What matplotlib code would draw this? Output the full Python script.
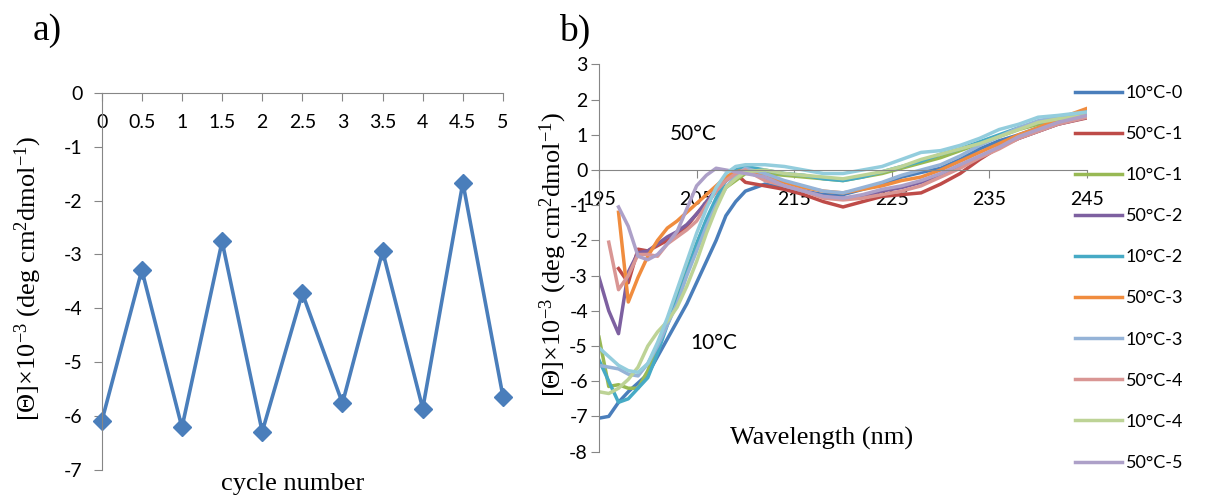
import numpy as np
import matplotlib
matplotlib.use("Agg")
import matplotlib.pyplot as plt

plt.rcParams["font.family"] = ["Lato", "DejaVu Sans"]
plt.rcParams["axes.unicode_minus"] = False
plt.rcParams["mathtext.fontset"] = "custom"
plt.rcParams["mathtext.rm"] = "Liberation Serif"
plt.rcParams["mathtext.it"] = "Liberation Serif:italic"

# panel a: cycle data
cycle = [0, 0.5, 1, 1.5, 2, 2.5, 3, 3.5, 4, 4.5, 5]
cycle_labels = ["0", "0.5", "1", "1.5", "2", "2.5", "3", "3.5", "4", "4.5", "5"]
theta_cycle = [-6.10, -3.29, -6.21, -2.76, -6.29, -3.72, -5.76, -2.94, -5.86, -1.67, -5.64]

# panel b: CD spectra
nan = np.nan
wl = [195, 196, 197, 198, 199, 200, 201, 202, 203, 204, 205, 206, 207, 208, 209, 210,
      212, 214, 216, 218, 220, 222, 224, 226, 228, 230, 232, 234, 236, 238, 240, 242, 245]

s_10c_0 = [-7.05, -7.0, -6.6, -6.3, -6.05, -5.8, -5.3, -4.8, -4.3, -3.8, -3.2, -2.6, -2.0, -1.3, -0.9, -0.6,
           -0.4, -0.5, -0.6, -0.7, -0.7, -0.55, -0.4, -0.2, -0.07, 0.05, 0.3, 0.6, 0.83, 1.0, 1.2, 1.38, 1.72]
s_50c_1 = [nan, nan, -2.8, -3.2, -2.25, -2.3, -2.15, -2.0, -1.85, -1.6, -1.25, -0.95, -0.6, -0.3, -0.1, -0.35,
           -0.45, -0.55, -0.7, -0.9, -1.05, -0.9, -0.75, -0.7, -0.65, -0.4, -0.1, 0.3, 0.65, 0.9, 1.1, 1.3, 1.48]
s_10c_1 = [-4.75, -6.15, -6.1, -6.2, -6.2, -5.7, -5.0, -4.3, -3.6, -2.85, -2.1, -1.45, -0.9, -0.5, -0.3, -0.1,
           -0.1, -0.15, -0.2, -0.25, -0.3, -0.2, -0.1, 0.05, 0.2, 0.35, 0.55, 0.75, 0.95, 1.15, 1.3, 1.45, 1.6]
s_50c_2 = [-3.05, -4.0, -4.65, -2.9, -2.35, -2.3, -2.1, -1.9, -1.75, -1.55, -1.25, -0.9, -0.55, -0.25, -0.05, 0.0,
           -0.25, -0.45, -0.6, -0.75, -0.8, -0.75, -0.6, -0.5, -0.35, -0.15, 0.1, 0.35, 0.65, 0.9, 1.1, 1.3, 1.5]
s_10c_2 = [-5.4, -6.0, -6.6, -6.5, -6.2, -5.9, -5.2, -4.4, -3.7, -2.9, -2.1, -1.4, -0.8, -0.3, 0.0, 0.1,
           0.0, -0.1, -0.15, -0.25, -0.3, -0.2, -0.05, 0.1, 0.25, 0.45, 0.6, 0.8, 1.0, 1.2, 1.35, 1.45, 1.6]
s_50c_3 = [nan, nan, -1.2, -3.75, -3.05, -2.45, -2.0, -1.65, -1.45, -1.2, -0.95, -0.7, -0.45, -0.2, -0.05, 0.0,
           -0.2, -0.35, -0.5, -0.6, -0.65, -0.55, -0.45, -0.3, -0.2, 0.0, 0.25, 0.5, 0.75, 1.0, 1.2, 1.45, 1.75]
s_10c_3 = [-5.55, -5.6, -5.65, -5.8, -5.85, -5.5, -5.0, -4.4, -3.8, -3.0, -2.3, -1.6, -1.0, -0.5, -0.15, 0.05,
           -0.1, -0.3, -0.45, -0.6, -0.65, -0.5, -0.35, -0.15, 0.0, 0.15, 0.4, 0.7, 0.95, 1.2, 1.4, 1.5, 1.6]
s_50c_4 = [nan, -2.05, -3.4, -3.0, -2.4, -2.4, -2.45, -2.1, -1.9, -1.7, -1.45, -1.0, -0.6, -0.3, -0.1, 0.0,
           -0.3, -0.45, -0.6, -0.8, -0.85, -0.8, -0.7, -0.6, -0.45, -0.2, 0.05, 0.35, 0.6, 0.9, 1.1, 1.3, 1.5]
s_10c_4 = [-6.3, -6.35, -6.2, -5.95, -5.6, -5.0, -4.6, -4.3, -3.9, -3.3, -2.6, -1.8, -1.1, -0.5, -0.25, -0.05,
           0.0, -0.1, -0.15, -0.2, -0.25, -0.15, -0.05, 0.1, 0.3, 0.45, 0.6, 0.75, 0.95, 1.15, 1.35, 1.45, 1.55]
s_50c_5 = [nan, nan, -1.05, -1.6, -2.45, -2.55, -2.4, -2.1, -1.75, -1.1, -0.45, -0.15, 0.05, 0.0, -0.05, -0.1,
           -0.2, -0.45, -0.6, -0.75, -0.8, -0.7, -0.55, -0.45, -0.3, -0.1, 0.15, 0.4, 0.65, 0.95, 1.15, 1.35, 1.55]
s_10c_5 = [-5.05, -5.3, -5.55, -5.7, -5.75, -5.5, -4.9, -4.2, -3.4, -2.6, -1.8, -1.1, -0.5, -0.1, 0.1, 0.15,
           0.15, 0.1, 0.0, -0.1, -0.1, 0.0, 0.1, 0.3, 0.5, 0.55, 0.7, 0.9, 1.15, 1.3, 1.5, 1.55, 1.65]

series = [s_10c_0, s_50c_1, s_10c_1, s_50c_2, s_10c_2, s_50c_3,
          s_10c_3, s_50c_4, s_10c_4, s_50c_5, s_10c_5]
names = ["10°C-0", "50°C-1", "10°C-1", "50°C-2", "10°C-2", "50°C-3",
         "10°C-3", "50°C-4", "10°C-4", "50°C-5", "10°C-5"]
colors = ["#4A7EBB", "#BE4B48", "#98B954", "#7D60A0", "#46AAC5", "#F08C3E",
          "#95B3D7", "#D99694", "#BDD396", "#ADA0C8", "#93CDDD"]

W, H = 1205, 498
AXIS = "#868686"
SERIF = "Liberation Serif"
YLAB = r"[Θ]×10$^{\mathrm{-3}}$ (deg cm$^{\mathrm{2}}$dmol$^{\mathrm{-1}}$)"


def fx(px):
    return px / W


def fy(py):
    return 1 - py / H


fig = plt.figure(figsize=(12.05, 4.98), dpi=100)

# ---- a) ----
ax1 = fig.add_axes([fx(101.7), fy(470), fx(503) - fx(101.7), fy(92.7) - fy(470)])
ax1.plot(cycle, theta_cycle, color="#4A7EBB", lw=2.6, marker="D", ms=9.5, clip_on=False)
ax1.set_xlim(0, 5)
ax1.set_ylim(-7, 0)
ax1.set_xticks(cycle)
ax1.set_xticklabels(cycle_labels)
ax1.set_yticks(range(-7, 1))
for s in ["top", "right"]:
    ax1.spines[s].set_visible(False)
ax1.spines["bottom"].set_position(("data", 0))
for s in ["bottom", "left"]:
    ax1.spines[s].set_color(AXIS)
ax1.tick_params(axis="x", direction="out", length=6, color=AXIS, pad=9, labelsize=14)
ax1.tick_params(axis="y", direction="out", length=6, color=AXIS, pad=8, labelsize=14)

# ---- b) ----
ax2 = fig.add_axes([fx(599), fy(451.6), fx(1087) - fx(599), fy(64.4) - fy(451.6)])
for vals, name, c in zip(series, names, colors):
    ax2.plot(wl, vals, color=c, lw=2.5, label=name, solid_joinstyle="round")
ax2.set_xlim(195, 245)
ax2.set_ylim(-8, 3)
ax2.set_xticks([195, 205, 215, 225, 235, 245])
ax2.set_yticks(range(-8, 4))
for s in ["top", "right"]:
    ax2.spines[s].set_visible(False)
ax2.spines["bottom"].set_position(("data", 0))
for s in ["bottom", "left"]:
    ax2.spines[s].set_color(AXIS)
ax2.tick_params(axis="x", direction="out", length=6, color=AXIS, pad=9, labelsize=14)
ax2.tick_params(axis="y", direction="out", length=6, color=AXIS, pad=2, labelsize=14)

handles, labels = ax2.get_legend_handles_labels()
fig.legend(handles[:10], labels[:10], loc="upper left",
           bbox_to_anchor=(fx(1075), fy(85)), frameon=False, fontsize=13,
           borderpad=0, borderaxespad=0, labelspacing=1.39,
           handlelength=2.6, handletextpad=0.2)

# texts
fig.text(fx(47), fy(31), "a)", family=SERIF, fontsize=27, ha="center", va="center")
fig.text(fx(575), fy(31), "b)", family=SERIF, fontsize=27, ha="center", va="center")
fig.text(fx(293), fy(484), "cycle number", family=SERIF, fontsize=19, ha="center", va="center")
fig.text(fx(822), fy(438), "Wavelength (nm)", family=SERIF, fontsize=19, ha="center", va="center")
fig.text(fx(28), fy(279), YLAB, family=SERIF, fontsize=19, rotation=90, ha="center", va="center")
fig.text(fx(553), fy(255), YLAB, family=SERIF, fontsize=19, rotation=90, ha="center", va="center")
fig.text(fx(693), fy(134), "50°C", fontsize=15, ha="center", va="center")
fig.text(fx(714), fy(343), "10°C", fontsize=15, ha="center", va="center")

fig.savefig("out.png", dpi=100)
